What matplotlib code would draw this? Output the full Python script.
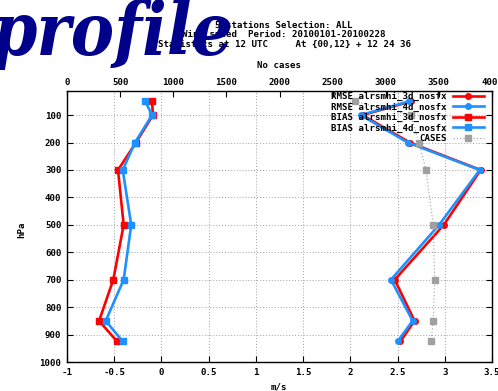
import matplotlib
matplotlib.use("Agg")
import matplotlib.pyplot as plt

# pressure levels (hPa) and scores per experiment
pressure = [50, 100, 200, 300, 500, 700, 850, 925]
rmse_3d = [2.64, 2.13, 2.63, 3.38, 2.99, 2.47, 2.68, 2.53]
rmse_4d = [2.62, 2.11, 2.61, 3.37, 2.94, 2.43, 2.66, 2.50]
bias_3d = [-0.10, -0.09, -0.27, -0.46, -0.40, -0.51, -0.66, -0.47]
bias_4d = [-0.17, -0.10, -0.28, -0.41, -0.32, -0.40, -0.59, -0.41]
cases = [2710, 3235, 3313, 3379, 3447, 3460, 3447, 3426]

x_ticks = [-1, -0.5, 0, 0.5, 1, 1.5, 2, 2.5, 3, 3.5]
x_tick_labels = ["-1", "-0.5", "0", "0.5", "1", "1.5", "2", "2.5", "3", "3.5"]
x2_ticks = [0, 500, 1000, 1500, 2000, 2500, 3000, 3500, 4000]
y_ticks = [100, 200, 300, 400, 500, 600, 700, 800, 900, 1000]

title_lines = [
    "5 stations Selection: ALL",
    "Wind speed  Period: 20100101-20100228",
    "Statistics at 12 UTC     At {00,12} + 12 24 36",
]

RED = "#ff0000"
BLUE = "#1e90ff"
GRAY = "#a0a0a0"
MONO = {"family": "DejaVu Sans Mono", "weight": "bold", "size": 6.6}

W, H = 498, 391
fig = plt.figure(figsize=(W / 100, H / 100), dpi=100)
ax = fig.add_axes([67 / W, 1 - 362 / H, 425 / W, 271 / H])

ax.plot(rmse_3d, pressure, color=RED, lw=1.9, marker="o", ms=4, label="RMSE alrsmhi_3d_nosfx")
ax.plot(rmse_4d, pressure, color=BLUE, lw=1.9, marker="o", ms=4, label="RMSE alrsmhi_4d_nosfx")
ax.plot(bias_3d, pressure, color=RED, lw=1.9, marker="s", ms=5, label="BIAS alrsmhi_3d_nosfx")
ax.plot(bias_4d, pressure, color=BLUE, lw=1.9, marker="s", ms=5, label="BIAS alrsmhi_4d_nosfx")

ax.set_xlim(-1, 3.5)
ax.set_ylim(1000, 12)
ax.set_xticks(x_ticks)
ax.set_xticklabels(x_tick_labels, fontdict=MONO)
ax.set_yticks(y_ticks)
ax.set_yticklabels([str(v) for v in y_ticks], fontdict=MONO)
ax.tick_params(direction="in", length=4, width=0.8, right=True, pad=4)
ax.grid(True, color=GRAY, linestyle=(0, (1, 2)), linewidth=0.7)
for sp in ax.spines.values():
    sp.set_linewidth(1.0)
    sp.set_color("#333333")

ax2 = ax.twiny()
ax2.plot(cases, pressure, color=GRAY, lw=0.8, linestyle=(0, (1, 2)), marker="s", ms=4.5, label="CASES")
ax2.set_xlim(0, 4000)
ax2.set_xticks(x2_ticks)
ax2.set_xticklabels([str(v) for v in x2_ticks], fontdict=MONO)
ax2.tick_params(direction="in", length=4, width=0.8, pad=3)

h1, l1 = ax.get_legend_handles_labels()
h2, l2 = ax2.get_legend_handles_labels()
leg = ax2.legend(h1 + h2, l1 + l2, loc="upper right", bbox_to_anchor=(1 - 8 / 425, 1 - 1 / 271),
                 frameon=False, markerfirst=False, prop=MONO, handlelength=3.4,
                 handletextpad=0.7, labelspacing=0.15, borderpad=0, borderaxespad=0)

fig.text(279 / W, 1 - 387 / H, "m/s", ha="center", va="center", fontdict=MONO)
fig.text(279 / W, 1 - 66 / H, "No cases", ha="center", va="center", fontdict=MONO)
fig.text(22 / W, 1 - 230 / H, "hPa", ha="center", va="center", rotation=90, fontdict=MONO)

for i, line in enumerate(title_lines):
    fig.text(284 / W, 1 - (25 + 9.7 * i) / H, line, ha="center", va="center", fontdict=MONO)

fig.text(-9 / W, 1 - 55 / H, "profile", ha="left", va="baseline", color="#00008b",
         family="DejaVu Serif", weight="bold", style="italic", stretch="condensed",
         size=52, zorder=10)

fig.savefig("out.png", dpi=100)
